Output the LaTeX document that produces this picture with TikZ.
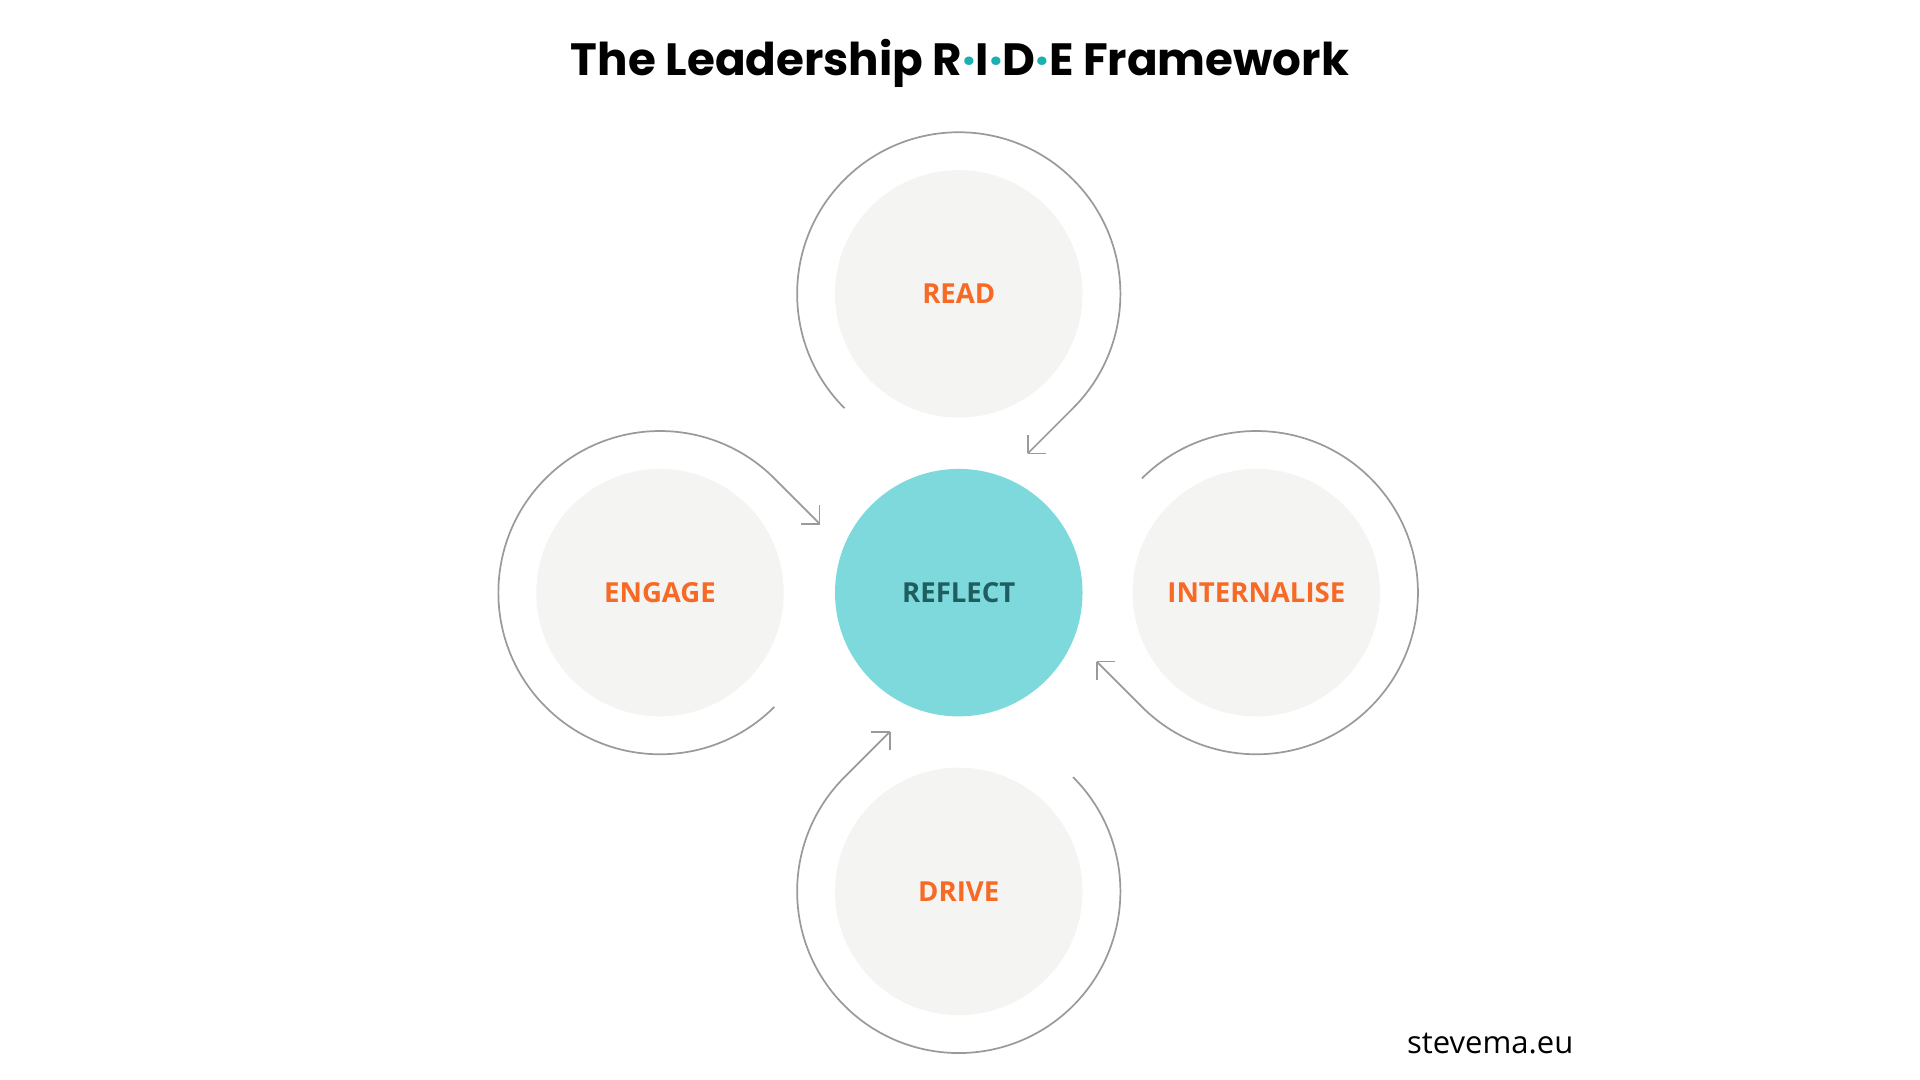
\documentclass[tikz,border=0pt]{standalone}
\usepackage{fontspec}
\setmainfont{Open Sans}
\newfontfamily\pop{Poppins}
\definecolor{org}{HTML}{F76A26}
\definecolor{tealf}{HTML}{7DD9DB}
\definecolor{tealt}{HTML}{1F5E60}
\definecolor{dotc}{HTML}{1AAFB0}
\definecolor{grayf}{HTML}{F4F4F2}
\definecolor{linec}{HTML}{9A9A9A}
\begin{document}
\begin{tikzpicture}[x=0.01cm,y=-0.01cm,
  stage/.style={circle,fill=grayf,minimum size=2.02cm,inner sep=0pt,text=org,font=\fontsize{6.4}{7}\selectfont\bfseries},
  loop/.style={draw=linec,line width=0.4pt}]
\useasboundingbox (0,0) rectangle (1568,882);
\node[font=\pop\fontsize{10.5}{12}\selectfont\bfseries] (title) at (784,52)
  {The Leadership R\textcolor{dotc}{·}I\textcolor{dotc}{·}D\textcolor{dotc}{·}E Framework};
\node[circle,fill=tealf,minimum size=2.02cm,inner sep=0pt,text=tealt,font=\fontsize{6.4}{7}\selectfont\bfseries] (reflect) at (783,484) {REFLECT};
\node[stage] (read) at (783,240) {READ};
\node[stage] (engage) at (539,484) {ENGAGE};
\node[stage] (intern) at (1026,484) {INTERNALISE};
\node[stage] (drive) at (783,728) {DRIVE};
\node[font=\fontsize{7.2}{9}\selectfont] (site) at (1217,852) {stevema.eu};
\def\R{132}
\draw[loop] ([shift={(135:\R)}]read.center) arc[start angle=135,end angle=405,radius=\R] -- ++(-37,37) coordinate (t1);
\draw[loop] (t1) -- ++(0,-15) (t1) -- ++(15,0);
\draw[loop] ([shift={(45:\R)}]engage.center) arc[start angle=45,end angle=315,radius=\R] -- ++(37,37) coordinate (t2);
\draw[loop] (t2) -- ++(-15,0) (t2) -- ++(0,-15);
\draw[loop] ([shift={(225:\R)}]intern.center) arc[start angle=225,end angle=495,radius=\R] -- ++(-37,-37) coordinate (t3);
\draw[loop] (t3) -- ++(15,0) (t3) -- ++(0,15);
\draw[loop] ([shift={(315:\R)}]drive.center) arc[start angle=-45,end angle=225,radius=\R] -- ++(37,-37) coordinate (t4);
\draw[loop] (t4) -- ++(-15,0) (t4) -- ++(0,15);
\end{tikzpicture}
\end{document}
